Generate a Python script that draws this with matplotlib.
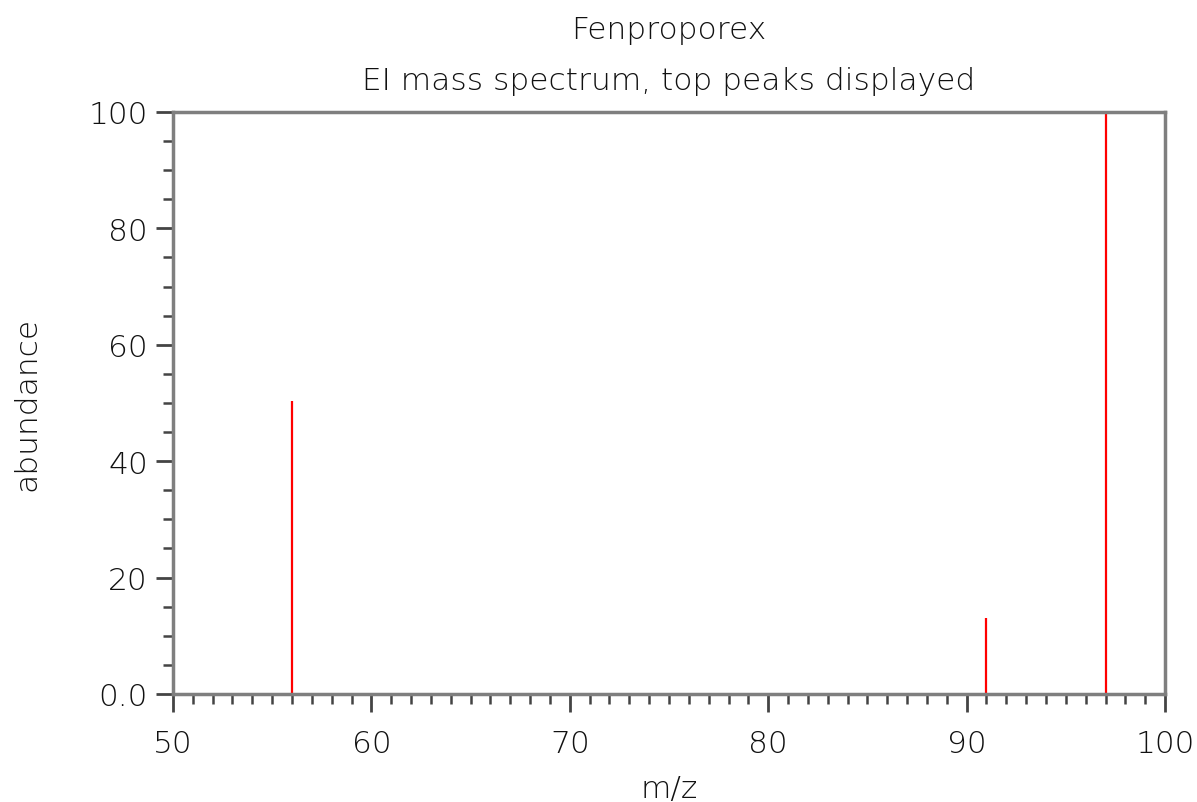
import matplotlib.pyplot as plt
from matplotlib.ticker import MultipleLocator

plt.rcParams['font.family'] = ['DejaVu Sans']
plt.rcParams['font.weight'] = 'light'
plt.rcParams['axes.labelweight'] = 'light'

mz = [56, 91, 97]
abundance = [50.3, 13.0, 100.0]

xticks = [50, 60, 70, 80, 90, 100]
yticks = [0, 20, 40, 60, 80, 100]
ytick_labels = ["0.0", "20", "40", "60", "80", "100"]

axis_col = "#7f7f7f"
text_col = "#111111"

fig = plt.figure(figsize=(11.97, 8.03), dpi=100)
ax = fig.add_axes([0.1445, 0.1345, 0.8288, 0.7248])

ax.vlines(mz, 0, abundance, color="red", linewidth=1.6, zorder=1)

ax.set_xlim(50, 100)
ax.set_ylim(0, 100)
ax.set_xticks(xticks)
ax.set_xticklabels([str(v) for v in xticks])
ax.set_yticks(yticks)
ax.set_yticklabels(ytick_labels)
ax.xaxis.set_minor_locator(MultipleLocator(1))
ax.yaxis.set_minor_locator(MultipleLocator(5))

for s in ax.spines.values():
    s.set_color(axis_col)
    s.set_linewidth(2.5)

ax.tick_params(which="major", width=2, color="#444444",
               labelsize=22.5, labelcolor=text_col)
ax.tick_params(which="minor", direction="out", length=7, width=1.8, color="#444444")
ax.tick_params(axis="x", which="major", direction="out", length=13, pad=12)
ax.tick_params(axis="y", which="major", direction="out", length=12, pad=6)

ax.set_xlabel("m/z", fontsize=22.5, color=text_col, fontweight="light", labelpad=12)
ax.set_ylabel("abundance", fontsize=22.5, color=text_col, fontweight="light", labelpad=34)

fig.text(0.5585, 0.962, "Fenproporex", ha="center", va="center", fontsize=22.5, color=text_col)
fig.text(0.5585, 0.899, "EI mass spectrum, top peaks displayed", ha="center", va="center",
         fontsize=22.5, color=text_col)

fig.savefig("out.png", dpi=100)
